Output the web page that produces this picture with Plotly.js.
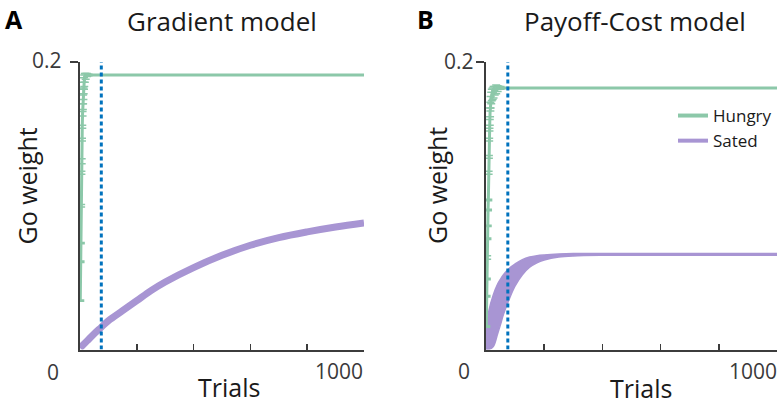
<!DOCTYPE html>
<html>
<head>
<meta charset="utf-8">
<script src="https://cdn.plot.ly/plotly-3.0.1.min.js"></script>
<style>html,body{margin:0;padding:0;background:#fff;}#chart{width:782px;height:405px;}</style>
</head>
<body>
<div id="chart"></div>
<script>
// ---------- data ----------
const cueTrial = 75;

// Panel A: Gradient model
const hungryTrialsA = [1,2,3,4,5,6,7,8,9,10,11,12,13,14,15,17,20,25,30,40,60,100,200,300,400,500,600,700,800,900,1000];
const hungryMeanA   = [0.034,0.061,0.074,0.100,0.123,0.131,0.146,0.155,0.164,0.169,0.174,0.178,0.182,0.185,0.187,0.189,0.190,0.191,0.191,0.191,0.191,0.191,0.191,0.191,0.191,0.191,0.191,0.191,0.191,0.191,0.191];
const hungryErrA    = [0.0005,0.0005,0.0005,0.0008,0.001,0.0017,0.001,0.001,0.0015,0.002,0.003,0.004,0.004,0.004,0.004,0.003,0.002,0.001,0.0005,0,0,0,0,0,0,0,0,0,0,0,0];

const satedTrialsA = [0,25,50,75,100,150,200,250,300,400,500,600,700,800,900,1000];
const satedMeanA   = [0.001,0.006,0.011,0.0155,0.020,0.027,0.034,0.041,0.047,0.057,0.0655,0.0725,0.0778,0.0818,0.0852,0.088];

// Panel B: Payoff-Cost model
const hungryTrialsB = [1,2,3,4,5,6,7,8,9,10,11,12,13,14,15,16,18,20,23,26,30,35,40,45,50,60,80,100,200,300,400,500,600,700,800,900,1000];
const hungryMeanB   = [0.016,0.037,0.049,0.064,0.077,0.086,0.097,0.104,0.123,0.134,0.146,0.153,0.158,0.165,0.169,0.172,0.175,0.177,0.178,0.179,0.180,0.181,0.1815,0.182,0.182,0.182,0.182,0.182,0.182,0.182,0.182,0.182,0.182,0.182,0.182,0.182,0.182];
const hungryErrB    = [0.0005,0.0005,0.0005,0.0012,0.0005,0.0005,0.0005,0.0005,0.001,0.001,0.001,0.001,0.002,0.003,0.003,0.004,0.004,0.004,0.004,0.004,0.003,0.003,0.002,0.001,0.001,0,0,0,0,0,0,0,0,0,0,0,0];

const satedTrialsB = [0,10,25,40,50,60,80,100,125,150,175,200,250,300,400,600,800,1000];
const satedUpperB  = [0.008,0.027,0.038,0.0455,0.049,0.052,0.0565,0.0595,0.0625,0.0643,0.0653,0.0658,0.0664,0.0667,0.0668,0.0668,0.0668,0.0668];
const satedLowerB  = [0,0,0.002,0.011,0.0175,0.0245,0.0352,0.0442,0.0520,0.0572,0.0603,0.0622,0.0643,0.0651,0.0655,0.0655,0.0655,0.0655];

const seriesNames = ['Hungry','Sated'];
const xTickVals = [200,400,600,800,1000];

// ---------- styles ----------
const GREEN = '#8cc8a9';
const PURPLE = '#a895d3';
const BLUE = '#0072bd';
const AXIS = '#3c3c3c';
const FONT = '"Open Sans", "Noto Sans", sans-serif';

const W = 782, H = 405;
const px = v => v / W;
const py = v => 1 - v / H;

function hungryTrace(xs, ys, es, xa, ya) {
  return {
    x: xs, y: ys, xaxis: xa, yaxis: ya, type: 'scatter', mode: 'lines',
    line: {color: GREEN, width: 3}, showlegend: false, hoverinfo: 'skip',
    error_y: {type: 'data', array: es, visible: true, color: GREEN, thickness: 1.5, width: 4}
  };
}
function cueTrace(xa, ya) {
  return {
    x: [cueTrial, cueTrial], y: [0, 0.2], xaxis: xa, yaxis: ya, type: 'scatter', mode: 'lines',
    line: {color: BLUE, width: 3, dash: '4px,3px'}, showlegend: false, hoverinfo: 'skip'
  };
}

const traces = [
  // Panel A
  {x: satedTrialsA, y: satedMeanA, xaxis: 'x', yaxis: 'y', type: 'scatter', mode: 'lines',
   line: {color: PURPLE, width: 7, shape: 'spline'}, showlegend: false, hoverinfo: 'skip'},
  hungryTrace(hungryTrialsA, hungryMeanA, hungryErrA, 'x', 'y'),
  cueTrace('x', 'y'),
  // Panel B
  {x: satedTrialsB, y: satedLowerB, xaxis: 'x2', yaxis: 'y2', type: 'scatter', mode: 'lines',
   line: {color: PURPLE, width: 1.5, shape: 'spline'}, showlegend: false, hoverinfo: 'skip'},
  {x: satedTrialsB, y: satedUpperB, xaxis: 'x2', yaxis: 'y2', type: 'scatter', mode: 'lines',
   fill: 'tonexty', fillcolor: PURPLE,
   line: {color: PURPLE, width: 1.5, shape: 'spline'}, showlegend: false, hoverinfo: 'skip'},
  hungryTrace(hungryTrialsB, hungryMeanB, hungryErrB, 'x2', 'y2'),
  cueTrace('x2', 'y2'),
  // legend entries
  {x: [null], y: [null], xaxis: 'x2', yaxis: 'y2', type: 'scatter', mode: 'lines',
   name: seriesNames[0], line: {color: GREEN, width: 4}},
  {x: [null], y: [null], xaxis: 'x2', yaxis: 'y2', type: 'scatter', mode: 'lines',
   name: seriesNames[1], line: {color: PURPLE, width: 4}}
];

function xAxis(domain, anchor) {
  return {
    domain: domain, anchor: anchor, range: [0, 1000], showgrid: false, zeroline: false,
    showline: true, linecolor: AXIS, linewidth: 2, layer: 'below traces',
    ticks: 'inside', ticklen: 6, tickwidth: 1.5, tickcolor: AXIS,
    tickvals: xTickVals, showticklabels: false, fixedrange: true
  };
}
function yAxis(domain, anchor) {
  return {
    domain: domain, anchor: anchor, range: [0, 0.2], showgrid: false, zeroline: false,
    showline: true, linecolor: AXIS, linewidth: 2, layer: 'below traces',
    ticks: 'outside', ticklen: 8, tickwidth: 2, tickcolor: AXIS,
    tickvals: [0.2], showticklabels: false, fixedrange: true
  };
}

const yDom = [py(349.5), py(62)];

function ann(text, x, y, size, opts) {
  return Object.assign({
    text: text, xref: 'paper', yref: 'paper', x: px(x), y: py(y),
    xanchor: 'center', yanchor: 'middle', showarrow: false,
    font: {family: FONT, size: size, color: '#1a1a1a'}
  }, opts || {});
}
const tickFont = {family: FONT, size: 21, color: '#3a3a3a'};

const annotations = [
  ann('<b>A</b>', 3, 0.5, 25, {xanchor: 'left', yanchor: 'top', font: {family: FONT, size: 25, color: '#000'}}),
  ann('Gradient model', 221.5, 0.5, 26, {yanchor: 'top'}),
  ann('<b>B</b>', 415, 0.5, 25, {xanchor: 'left', yanchor: 'top', font: {family: FONT, size: 25, color: '#000'}}),
  ann('Payoff-Cost model', 635, 0.5, 26, {yanchor: 'top'}),
  ann('Go weight', 26, 186.5, 25, {textangle: -90}),
  ann('Go weight', 437, 186, 25, {textangle: -90}),
  ann('Trials', 229, 387, 25),
  ann('Trials', 641, 388, 25),
  ann('0', 61, 372, 21, {xanchor: 'right', font: tickFont}),
  ann('1000', 365, 371, 21, {xanchor: 'right', font: tickFont}),
  ann('0.2', 64, 60, 21, {xanchor: 'right', font: tickFont}),
  ann('0', 472, 371, 21, {xanchor: 'right', font: tickFont}),
  ann('1000', 779, 371, 21, {xanchor: 'right', font: tickFont}),
  ann('0.2', 476, 61, 21, {xanchor: 'right', font: tickFont})
];

const layout = {
  width: W, height: H,
  margin: {l: 0, r: 0, t: 0, b: 0},
  paper_bgcolor: '#fff', plot_bgcolor: 'rgba(0,0,0,0)',
  font: {family: FONT, color: '#1a1a1a'},
  xaxis: xAxis([px(80), px(364)], 'y'),
  yaxis: yAxis(yDom, 'x'),
  xaxis2: xAxis([px(486), px(777)], 'y2'),
  yaxis2: yAxis(yDom, 'x2'),
  showlegend: true,
  legend: {
    x: px(673), y: py(98), xanchor: 'left', yanchor: 'top',
    traceorder: 'normal',
    bgcolor: 'rgba(0,0,0,0)', borderwidth: 0,
    font: {family: FONT, size: 17, color: '#1a1a1a'},
    tracegroupgap: 0, itemclick: false, itemdoubleclick: false
  },
  annotations: annotations
};

Plotly.newPlot('chart', traces, layout, {staticPlot: true, displayModeBar: false});
</script>
</body>
</html>
